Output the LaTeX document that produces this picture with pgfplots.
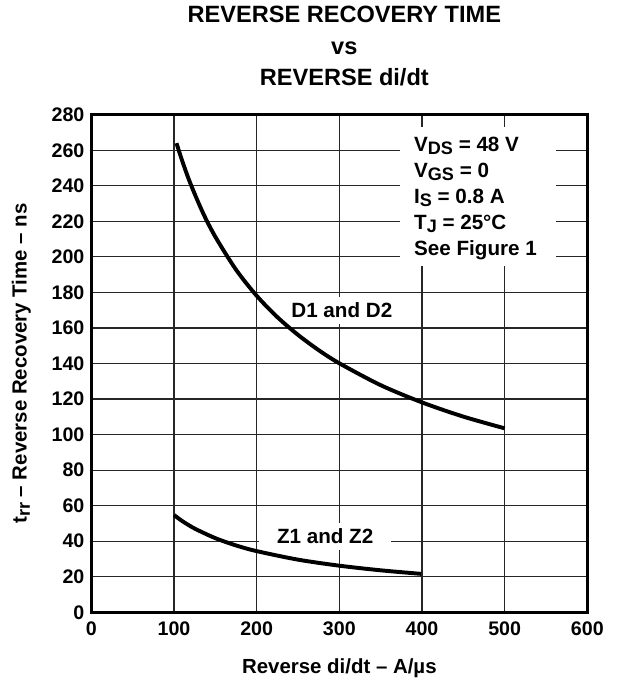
\documentclass[border=0pt]{standalone}
\usepackage{pgfplots}
\pgfplotsset{compat=1.18}
\usepackage{fontspec}
\setmainfont{Liberation Sans}
\newcommand\sub[1]{\raisebox{-1.7pt}{\fontsize{9.2}{10}\selectfont #1}}
\begin{document}
\bfseries
\begin{tikzpicture}
\begin{axis}[
  name=ax,
  scale only axis, width=252.5pt, height=253.25pt,
  xmin=0, xmax=600, ymin=0, ymax=280,
  xtick={0,100,...,600}, ytick={0,20,...,280},
  grid=major,
  major grid style={black!85, line width=0.6pt},
  axis line style={line width=1.3pt},
  tick style={draw=none},
  /pgf/number format/assume math mode=true,
  ticklabel style={font=\fontsize{10}{11}\selectfont\bfseries},
  xticklabel style={yshift=-1.5pt},
  title={REVERSE RECOVERY TIME\\vs\\REVERSE di/dt},
  title style={align=center, font=\fontsize{12}{15.8}\selectfont\bfseries,
    at={(0.51,1)}, anchor=base, yshift=9.1pt},
  xlabel={Reverse di/dt -- A/µs},
  xlabel style={font=\fontsize{10.4}{11}\selectfont\bfseries, yshift=-4.5pt},
  ylabel={t\sub{rr} -- Reverse Recovery Time -- ns},
  ylabel style={font=\fontsize{10.4}{11}\selectfont\bfseries, yshift=3.7pt},
]
% labels first, so that the curves stay on top of their white backgrounds
\fill[white] (axis cs:372.8,195) rectangle (axis cs:562,273.3);
\node[anchor=north west, align=left, inner sep=0pt,
      font=\fontsize{10.5}{13.25}\selectfont\bfseries]
  at (axis cs:390,267.6) {V\sub{DS} = 48 V\\V\sub{GS} = 0\\I\sub{S} = 0.8 A\\T\sub{J} = 25°C\\See Figure 1};
\node[fill=white, inner xsep=4pt, inner ysep=3pt,
      font=\fontsize{10.5}{11}\selectfont\bfseries] at (axis cs:303,170) {D1 and D2};
\node[fill=white, inner xsep=9pt, inner ysep=3pt,
      font=\fontsize{10.5}{11}\selectfont\bfseries] at (axis cs:282.8,42.8) {Z1 and Z2};
% D1 and D2
\addplot[black, line width=2pt, smooth] coordinates {
  (103,264) (110,253.9) (120,241.1) (135,224.8) (150,211.3) (175,192.8)
  (200,178.1) (225,166.1) (250,156.1) (275,147.5) (300,140.1)
  (350,127.8) (400,118.1) (450,110.1) (500,103.5)
};
% Z1 and Z2
\addplot[black, line width=2pt, smooth] coordinates {
  (100,54.7) (110,51.3) (125,47.1) (150,41.7) (175,37.6) (200,34.4)
  (250,29.6) (300,26.2) (350,23.6) (399,21.6)
};
\end{axis}
\path ([shift={(-46.5pt,-35.5pt)}]ax.south west) ([shift={(17pt,53.25pt)}]ax.north east);
\end{tikzpicture}
\end{document}
